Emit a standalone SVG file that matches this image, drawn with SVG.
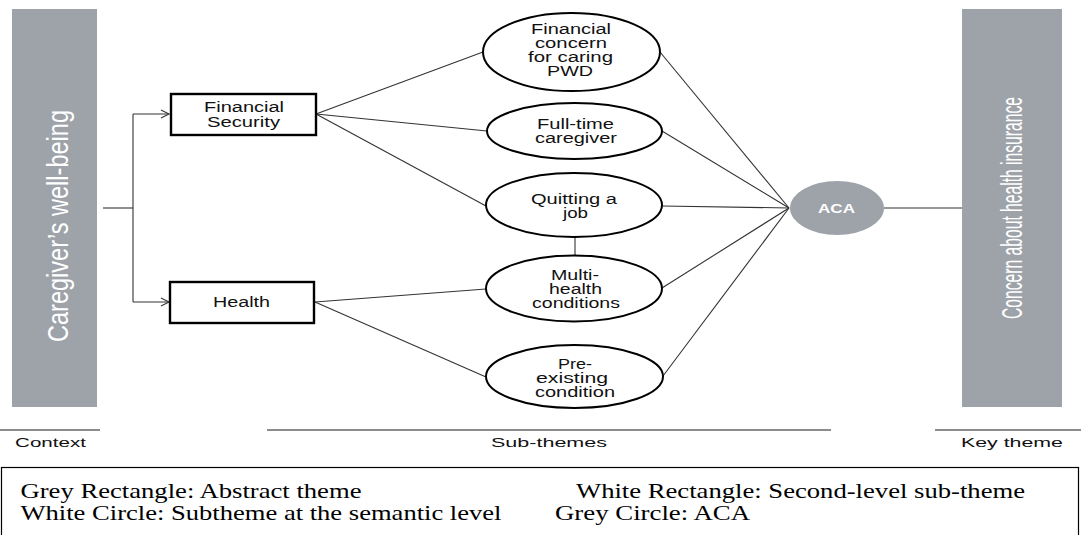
<svg xmlns="http://www.w3.org/2000/svg" width="1081" height="535" viewBox="0 0 1081 535">
<style>
.grey{fill:#9ea3aa}
.vt{font-family:"Liberation Sans",Arial,sans-serif;font-size:19.5px;fill:#ffffff}
.lbl{font-family:"Liberation Sans",Arial,sans-serif;font-size:14px;fill:#111111}
.box{fill:#ffffff;stroke:#000000;stroke-width:2.4}
.ell{fill:#ffffff;stroke:#000000;stroke-width:2}
.con{stroke:#333333;stroke-width:1.1;fill:none}
.sep{stroke:#8c8c8c;stroke-width:2}
.leg{font-family:"Liberation Serif","Times New Roman",serif;font-size:20.3px;fill:#000000}
.foot{font-family:"Liberation Sans",Arial,sans-serif;font-size:13.5px;fill:#111111}
</style>
<defs>
<marker id="arr" markerUnits="userSpaceOnUse" markerWidth="12" markerHeight="12" refX="9" refY="5" orient="auto">
<path d="M1,1 L9,5 L1,9" fill="none" stroke="#333333" stroke-width="1.1"/>
</marker>
</defs>

<g id="connectors">
<line class="con" x1="103" y1="208" x2="133" y2="208"/>
<line class="con" x1="133" y1="114" x2="133" y2="302"/>
<line class="con" x1="133" y1="114" x2="169" y2="114" marker-end="url(#arr)"/>
<line class="con" x1="133" y1="302" x2="169" y2="302" marker-end="url(#arr)"/>
<line class="con" x1="316" y1="114" x2="483" y2="52"/>
<line class="con" x1="316" y1="114" x2="487" y2="131"/>
<line class="con" x1="316" y1="114" x2="486" y2="206"/>
<line class="con" x1="315" y1="302" x2="486" y2="289"/>
<line class="con" x1="315" y1="302" x2="486" y2="377"/>
<line class="con" x1="660" y1="52" x2="789" y2="208"/>
<line class="con" x1="662" y1="131" x2="789" y2="208"/>
<line class="con" x1="662" y1="206" x2="789" y2="208"/>
<line class="con" x1="662" y1="288" x2="789" y2="208"/>
<line class="con" x1="663" y1="376" x2="789" y2="208"/>
<line class="con" x1="575" y1="237" x2="575" y2="255"/>
<line class="con" x1="884" y1="208" x2="962" y2="208"/>
</g>

<g id="context">
<rect class="grey" x="12" y="9" width="85" height="398"/>
<text class="vt" transform="translate(68,342) rotate(-90) scale(1,1.47)" x="0" y="0" textLength="232" lengthAdjust="spacingAndGlyphs">Caregiver’s well-being</text>
</g>

<g id="key-theme">
<rect class="grey" x="962" y="9" width="100" height="398"/>
<text class="vt" transform="translate(1022,319) rotate(-90) scale(1,1.47)" x="0" y="0" textLength="222" lengthAdjust="spacingAndGlyphs">Concern about health insurance</text>
</g>

<g id="financial-security">
<rect class="box" x="171" y="94" width="145" height="41"/>
<text class="lbl" x="204" y="111.5" textLength="80" lengthAdjust="spacingAndGlyphs" font-size="13">Financial</text>
<text class="lbl" x="207" y="126.5" textLength="73" lengthAdjust="spacingAndGlyphs" font-size="13">Security</text>
</g>

<g id="health">
<rect class="box" x="170" y="282" width="144" height="41"/>
<text class="lbl" x="213" y="307" textLength="57" lengthAdjust="spacingAndGlyphs">Health</text>
</g>

<g id="financial-concern">
<ellipse class="ell" cx="571.5" cy="52" rx="88.5" ry="39"/>
<text class="lbl" x="531" y="33.5" textLength="80" lengthAdjust="spacingAndGlyphs">Financial</text>
<text class="lbl" x="535" y="47.5" textLength="72" lengthAdjust="spacingAndGlyphs">concern</text>
<text class="lbl" x="528" y="61.5" textLength="85" lengthAdjust="spacingAndGlyphs">for caring</text>
<text class="lbl" x="547" y="75.5" textLength="46" lengthAdjust="spacingAndGlyphs">PWD</text>
</g>

<g id="full-time">
<ellipse class="ell" cx="574.5" cy="131" rx="87.5" ry="28"/>
<text class="lbl" x="537" y="129" textLength="77" lengthAdjust="spacingAndGlyphs">Full-time</text>
<text class="lbl" x="535" y="143" textLength="82" lengthAdjust="spacingAndGlyphs">caregiver</text>
</g>

<g id="quitting">
<ellipse class="ell" cx="574" cy="205" rx="88" ry="32"/>
<text class="lbl" x="531" y="203.5" textLength="86" lengthAdjust="spacingAndGlyphs">Quitting a</text>
<text class="lbl" x="563" y="217.5" textLength="25" lengthAdjust="spacingAndGlyphs">job</text>
</g>

<g id="multi-health">
<ellipse class="ell" cx="574" cy="288.5" rx="88" ry="33"/>
<text class="lbl" x="551" y="279.5" textLength="48" lengthAdjust="spacingAndGlyphs">Multi-</text>
<text class="lbl" x="549" y="293.5" textLength="53" lengthAdjust="spacingAndGlyphs">health</text>
<text class="lbl" x="532" y="307.5" textLength="88" lengthAdjust="spacingAndGlyphs">conditions</text>
</g>

<g id="pre-existing">
<ellipse class="ell" cx="574.5" cy="376.5" rx="88.5" ry="31.5"/>
<text class="lbl" x="558" y="368.5" textLength="34" lengthAdjust="spacingAndGlyphs">Pre-</text>
<text class="lbl" x="536" y="382.5" textLength="72" lengthAdjust="spacingAndGlyphs">existing</text>
<text class="lbl" x="535" y="396.5" textLength="80" lengthAdjust="spacingAndGlyphs">condition</text>
</g>

<g id="aca">
<ellipse class="grey" cx="837" cy="208" rx="47" ry="27"/>
<text x="818" y="212.5" textLength="37" lengthAdjust="spacingAndGlyphs" font-family="Liberation Sans, Arial, sans-serif" font-size="12.5" font-weight="bold" fill="#ffffff">ACA</text>
</g>

<g id="sections">
<line class="sep" x1="0" y1="430" x2="100" y2="430"/>
<line class="sep" x1="267" y1="430" x2="831" y2="430"/>
<line class="sep" x1="935" y1="430" x2="1081" y2="430"/>
<text class="foot" x="15" y="447" textLength="71" lengthAdjust="spacingAndGlyphs">Context</text>
<text class="foot" x="491" y="447" textLength="116" lengthAdjust="spacingAndGlyphs">Sub-themes</text>
<text class="foot" x="961" y="447" textLength="102" lengthAdjust="spacingAndGlyphs">Key theme</text>
</g>

<g id="legend">
<rect x="1.5" y="467.5" width="1077" height="72" fill="none" stroke="#000000" stroke-width="1.2"/>
<text class="leg" x="20.5" y="497.5" textLength="341" lengthAdjust="spacingAndGlyphs">Grey Rectangle: Abstract theme</text>
<text class="leg" x="576" y="497.5" textLength="449" lengthAdjust="spacingAndGlyphs">White Rectangle: Second-level sub-theme</text>
<text class="leg" x="20.5" y="520" textLength="481" lengthAdjust="spacingAndGlyphs">White Circle: Subtheme at the semantic level</text>
<text class="leg" x="555" y="520" textLength="195" lengthAdjust="spacingAndGlyphs">Grey Circle: ACA</text>
</g>
</svg>
